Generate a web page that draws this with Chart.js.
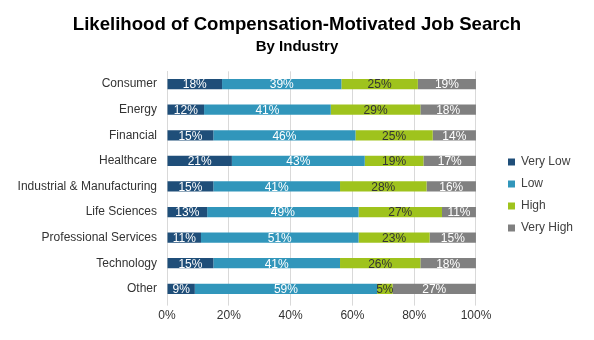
<!DOCTYPE html>
<html>
<head>
<meta charset="utf-8">
<script src="https://cdn.jsdelivr.net/npm/chart.js@4"></script>
<style>
  body { margin: 0; background: #fff; }
  #wrap { width: 594px; height: 340px; }
</style>
</head>
<body>
<div id="wrap"><canvas id="myChart"></canvas></div>
<script>
// data (percent, as labelled)
var industries = ['Consumer', 'Energy', 'Financial', 'Healthcare', 'Industrial & Manufacturing',
  'Life Sciences', 'Professional Services', 'Technology', 'Other'];
var veryLow  = [18, 12, 15, 21, 15, 13, 11, 15, 9];
var low      = [39, 41, 46, 43, 41, 49, 51, 41, 59];
var high     = [25, 29, 25, 19, 28, 27, 23, 26, 5];
var veryHigh = [19, 18, 14, 17, 16, 11, 15, 18, 27];
var xTicks = [0, 20, 40, 60, 80, 100];

// 100% stacked: scale each row by its total
var totals = industries.map(function (d, i) {
  return veryLow[i] + low[i] + high[i] + veryHigh[i];
});
function share(arr) {
  return arr.map(function (v, i) { return v / totals[i] * 100; });
}

var series = [
  { label: 'Very Low', raw: veryLow, color: '#1f4e79', text: '#ffffff' },
  { label: 'Low', raw: low, color: '#3196bb', text: '#ffffff' },
  { label: 'High', raw: high, color: '#9fc31d', text: '#333333' },
  { label: 'Very High', raw: veryHigh, color: '#808080', text: '#ffffff' }
];

var FONT = '"Liberation Sans", Arial, sans-serif';
var SUBTITLE = 'By Industry';

var barLabels = {
  id: 'barLabels',
  afterDatasetsDraw: function (chart) {
    var ctx = chart.ctx;
    ctx.save();
    ctx.font = '12px ' + FONT;
    ctx.textAlign = 'center';
    ctx.textBaseline = 'middle';
    chart.data.datasets.forEach(function (ds, di) {
      var meta = chart.getDatasetMeta(di);
      meta.data.forEach(function (bar, i) {
        var p = bar.getProps(['x', 'y', 'base'], true);
        ctx.fillStyle = series[di].text;
        ctx.fillText(ds.raw[i] + '%', (p.x + p.base) / 2, p.y + 1);
      });
    });
    ctx.restore();
  }
};

// nudge legend and titles to where the reference has them
function shiftBox(box, dx, dy) {
  if (!box) return;
  box.left += dx; box.right += dx;
  box.top += dy; box.bottom += dy;
}
var moveBoxes = {
  id: 'moveBoxes',
  afterLayout: function (chart) {
    var dx = 22, dy = 29;
    shiftBox(chart.legend, dx, dy);
    (chart.legend.legendHitBoxes || []).forEach(function (b) { b.left += dx; b.top += dy; });
    chart.boxes.forEach(function (b) {
      if (b === chart.titleBlock || (b.options && b.options.text === SUBTITLE)) {
        shiftBox(b, 13.5, 0);
      }
    });
  }
};

var ctx = document.getElementById('myChart').getContext('2d');
var myChart = new Chart(ctx, {
  type: 'bar',
  data: {
    labels: industries,
    datasets: series.map(function (s) {
      return {
        label: s.label,
        raw: s.raw,
        data: share(s.raw),
        backgroundColor: s.color,
        borderWidth: 0,
        barPercentage: 0.8,
        categoryPercentage: 0.5
      };
    })
  },
  options: {
    indexAxis: 'y',
    responsive: true,
    maintainAspectRatio: false,
    animation: false,
    layout: { padding: { left: 6, right: 33, top: 6, bottom: 14 } },
    plugins: {
      title: {
        display: true,
        text: 'Likelihood of Compensation-Motivated Job Search',
        color: '#000',
        font: { family: FONT, size: 18.6, weight: 'bold' },
        padding: { top: 8, bottom: 2 }
      },
      subtitle: {
        display: true,
        text: SUBTITLE,
        color: '#000',
        font: { family: FONT, size: 15, weight: 'bold' },
        padding: { top: 0, bottom: 15 }
      },
      legend: {
        position: 'right',
        labels: {
          boxWidth: 7,
          boxHeight: 7,
          padding: 10,
          color: '#404040',
          font: { family: FONT, size: 12 }
        }
      },
      tooltip: { enabled: false }
    },
    scales: {
      x: {
        stacked: true,
        min: 0,
        max: 100,
        afterBuildTicks: function (axis) {
          axis.ticks = xTicks.map(function (v) { return { value: v }; });
        },
        grid: { color: '#d9d9d9', tickLength: 4, tickColor: '#d9d9d9' },
        border: { display: false },
        ticks: {
          color: '#333',
          padding: 3,
          font: { family: FONT, size: 12 },
          callback: function (v) { return v + '%'; }
        }
      },
      y: {
        stacked: true,
        afterFit: function (scale) { scale.width = 161; },
        grid: { display: false, drawTicks: false },
        border: { display: true, color: '#d9d9d9' },
        ticks: {
          color: '#333',
          padding: 10,
          font: { family: FONT, size: 12 }
        }
      }
    }
  },
  plugins: [barLabels, moveBoxes]
});
</script>
</body>
</html>
